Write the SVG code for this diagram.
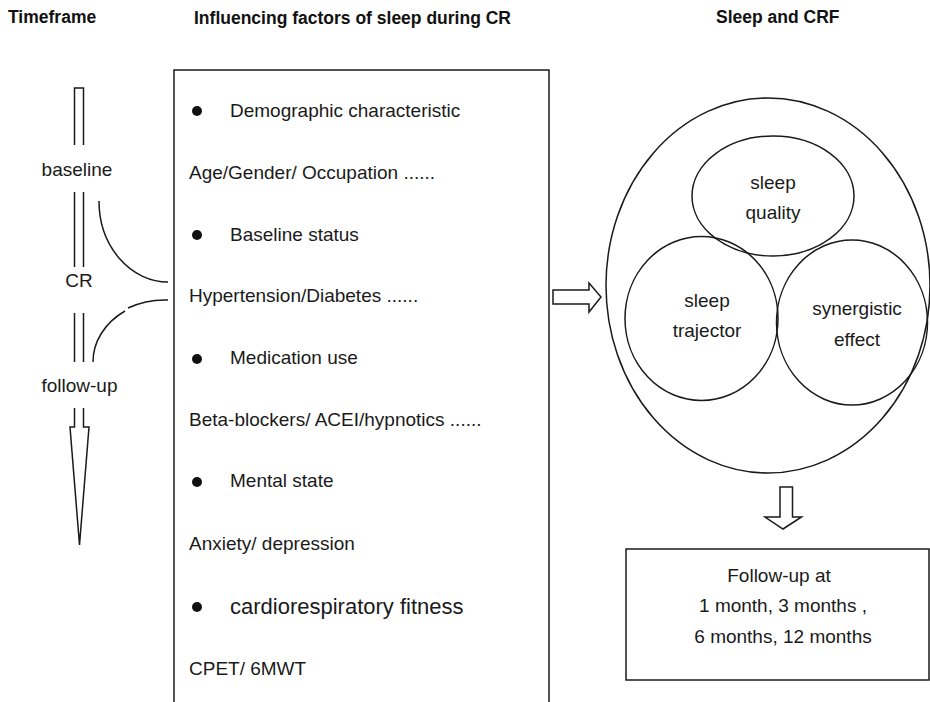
<svg xmlns="http://www.w3.org/2000/svg" width="930" height="702" viewBox="0 0 930 702">
<style>
.t{font-family:"Liberation Sans",Arial,sans-serif;font-size:19px;fill:#1a1a1a}
.h{font-family:"Liberation Sans",Arial,sans-serif;font-size:17.5px;font-weight:bold;fill:#111}
.c{text-anchor:middle}
.s{fill:none;stroke:#1a1a1a;stroke-width:1.5}
.w{fill:#fff;stroke:#1a1a1a;stroke-width:1.5}
</style>
<rect width="930" height="702" fill="#fff"/>
<g id="headers">
<text class="h" x="8" y="23">Timeframe</text>
<text class="h" x="194" y="24">Influencing factors of sleep during CR</text>
<text class="h" x="716" y="23">Sleep and CRF</text>
</g>
<g id="timeline">
<path class="s" d="M74.5,145 V88 H83.5 V145"/>
<text class="t c" x="77" y="176">baseline</text>
<path class="s" d="M74.5,192 V267 M83.5,192 V267"/>
<text class="t c" x="79" y="287">CR</text>
<path class="s" d="M74.5,313 V362 M83.5,313 V362"/>
<text class="t c" x="79.5" y="392">follow-up</text>
<path class="s" d="M74.5,408 V427 H70 L79.5,545 L89,427 H83.5 V408"/>
</g>
<g id="connectors">
<path class="s" d="M99,201 A69,81 0 0 0 168,282"/>
<path class="s" d="M93,362 A75,62 0 0 1 125,311"/>
<path class="s" d="M128,308 A75,62 0 0 1 168,300"/>
<path class="w" d="M553,290 H589 V283 L601,297 L589,312 V304 H553 Z"/>
<path class="w" d="M780,487 V517 H765 L783,529 L801.5,517 H792.5 V487 Z"/>
</g>
<g id="factors">
<path class="s" d="M174,702 V70 H549 V702"/>
<g fill="#111">
<circle cx="197" cy="111" r="5"/>
<circle cx="197" cy="235" r="5"/>
<circle cx="197" cy="359" r="5"/>
<circle cx="197" cy="482" r="5"/>
<circle cx="197" cy="607" r="5"/>
</g>
<text class="t" x="230" y="117">Demographic characteristic</text>
<text class="t" x="189" y="179">Age/Gender/ Occupation ......</text>
<text class="t" x="230" y="241">Baseline status</text>
<text class="t" x="189" y="302">Hypertension/Diabetes ......</text>
<text class="t" x="230" y="364">Medication use</text>
<text class="t" x="189" y="426">Beta-blockers/ ACEI/hypnotics ......</text>
<text class="t" x="230" y="487">Mental state</text>
<text class="t" x="189" y="550">Anxiety/ depression</text>
<text class="t" x="230" y="614" style="font-size:22px">cardiorespiratory fitness</text>
<text class="t" x="189" y="675">CPET/ 6MWT</text>
</g>
<g id="sleep-crf">
<ellipse class="s" cx="768" cy="285.5" rx="162" ry="187.5"/>
</g>
<g id="sleep-quality">
<ellipse class="s" cx="773" cy="196" rx="81" ry="60"/>
<text class="t c" x="773" y="189">sleep</text>
<text class="t c" x="773" y="219">quality</text>
</g>
<g id="sleep-trajector">
<ellipse class="s" cx="701.5" cy="318.5" rx="76.5" ry="82"/>
<text class="t c" x="707" y="307">sleep</text>
<text class="t c" x="707" y="337">trajector</text>
</g>
<g id="synergistic-effect">
<ellipse class="s" cx="852" cy="322.5" rx="75.5" ry="82.5"/>
<text class="t c" x="857" y="315">synergistic</text>
<text class="t c" x="857" y="346">effect</text>
</g>
<g id="follow-up">
<rect class="s" x="626" y="549" width="303" height="131"/>
<text class="t c" x="779" y="582">Follow-up at</text>
<text class="t c" x="783" y="612">1 month, 3 months ,</text>
<text class="t c" x="783" y="643">6 months, 12 months</text>
</g>
</svg>
